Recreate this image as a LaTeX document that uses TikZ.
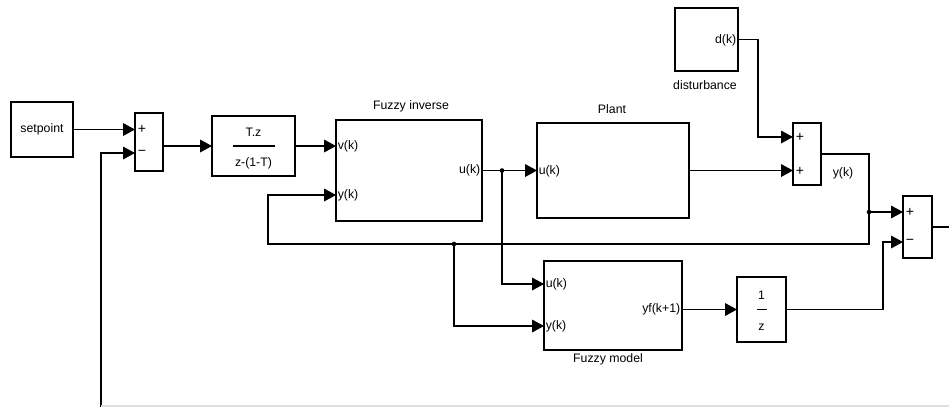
\documentclass[tikz,border=0pt]{standalone}
\usepackage{fontspec}
\setmainfont{Liberation Sans}
\usetikzlibrary{positioning, calc, arrows.meta}

\begin{document}
\begin{tikzpicture}[
  x=0.02cm, y=-0.02cm,
  every node/.append style={inner sep=1pt, outer sep=0pt, font=\fontsize{7}{8}\selectfont},
  blk/.style={draw, line width=0.7pt, inner sep=0pt},
  lbl/.style={inner sep=1pt},
  sgn/.style={inner sep=1pt, anchor=west, font=\fontsize{8}{9}\selectfont},
  arr/.style={-{Triangle[length=6.8pt, width=7.2pt]}, line width=0.7pt},
  ln/.style={line width=0.7pt},
  dot/.style={fill=black},
]
\useasboundingbox (0,0) rectangle (949,407);

%% --- blocks (pixel coordinates, y down) ---------------------------------
\node[blk, minimum width=1.24cm, minimum height=1.10cm] (setpt) at (42, 129.5) {setpoint};
\node[blk, minimum width=0.56cm, minimum height=1.16cm] (sum1)  at (149, 142) {};
\node[blk, minimum width=1.66cm, minimum height=1.20cm] (tf)    at (253.5, 146) {};
\node[blk, minimum width=2.92cm, minimum height=2.02cm] (finv)  at (409, 170.5) {};
\node[blk, minimum width=3.04cm, minimum height=1.90cm] (plant) at (613, 170.5) {};
\node[blk, minimum width=1.26cm, minimum height=1.26cm] (dist)  at (706.5, 39.5) {};
\node[blk, minimum width=0.56cm, minimum height=1.24cm] (sum2)  at (807, 154) {};
\node[blk, minimum width=0.58cm, minimum height=1.24cm] (sum3)  at (917.5, 227) {};
\node[blk, minimum width=2.76cm, minimum height=1.78cm] (fmod)  at (613, 305.5) {};
\node[blk, minimum width=0.98cm, minimum height=1.30cm] (zinv)  at (761.5, 309.5) {};

%% --- block titles --------------------------------------------------------
\node[lbl] (finvt)  at (411, 106) {Fuzzy inverse};
\node[lbl] (plantt) at (612, 109) {Plant};
\node[lbl] (distt)  at (705, 85)  {disturbance};
\node[lbl] (fmodt)  at (608, 359) {Fuzzy model};
\node[lbl] (yk)     at (843, 173) {y(k)};

%% --- transfer functions --------------------------------------------------
\node[lbl] (tfnum) at (253.5, 132) {T.z};
\node[lbl] (tfden) at (253.5, 163) {z-(1-T)};
\draw[ln] ($(tf.center)+(-21,0)$) -- ($(tf.center)+(21,0)$);
\node[lbl] (znum) at (761.5, 295) {1};
\node[lbl] (zden) at (761.5, 327) {z};
\draw[ln] ($(zinv.center)+(-5,0)$) -- ($(zinv.center)+(5,0)$);

%% --- signs ---------------------------------------------------------------
\node[sgn] (s1a) at (136, 129) {+};
\node[sgn] (s1b) at (136, 153) {−};
\node[sgn] (s2a) at (794, 137) {+};
\node[sgn] (s2b) at (794, 171) {+};
\node[sgn] (s3a) at (904, 212) {+};
\node[sgn] (s3b) at (904, 242) {−};

%% --- ports ---------------------------------------------------------------
\node[lbl, anchor=west] (fivl) at (336, 146)   {v(k)};
\node[lbl, anchor=west] (fiyl) at (336, 195)   {y(k)};
\node[lbl, anchor=east] (fiul) at (482, 170.5) {u(k)};
\node[lbl, anchor=west] (plul) at (537, 171)   {u(k)};
\node[lbl, anchor=east] (dkl)  at (738, 40)    {d(k)};
\node[lbl, anchor=west] (fmul) at (544, 284)   {u(k)};
\node[lbl, anchor=west] (fmyl) at (544, 326)   {y(k)};
\node[lbl, anchor=east] (fmol) at (682, 309)   {yf(k+1)};

%% --- connection points ---------------------------------------------------
\coordinate (fiv) at ($(finv.west)+(0,-24.5)$);
\coordinate (fiy) at ($(finv.west)+(0,24.5)$);
\coordinate (fmu) at ($(fmod.west)+(0,-21.5)$);
\coordinate (fmy) at ($(fmod.west)+(0,20.5)$);
\coordinate (s1m) at ($(sum1.west)+(0,11)$);
\coordinate (s2u) at ($(sum2.west)+(0,-17)$);
\coordinate (s3p) at ($(sum3.west)+(0,-15)$);
\coordinate (s3m) at ($(sum3.west)+(0,15)$);
\coordinate (j1)  at (502, 170.5);
\coordinate (j2)  at (869, 212);
\coordinate (j3)  at (454, 244);
\coordinate (fbl) at (268, 244);
\coordinate (fbb) at (101, 407);
\coordinate (fbe) at (949, 406);
\coordinate (yout) at (949, 227);

%% --- connectors ----------------------------------------------------------
\draw[arr] (setpt.east) -- (setpt.east -| sum1.west);
\draw[arr] (fbb) |- (s1m);
\draw[arr] (sum1.east |- tf.west) -- (tf.west);
\draw[arr] (tf.east) -- (fiv);
\draw[arr] (finv.east) -- (finv.east -| plant.west);
\draw[arr] (j1) |- (fmu);
\draw[arr] (plant.east) -- (plant.east -| sum2.west);
\draw[arr] (dist.east) -- ++(20,0) |- (s2u);
\draw[arr] (sum2.east) -| (j3 -| j2) -- (fbl) |- (fiy);
\draw[arr] (j2) -- (s3p);
\draw[arr] (j3) |- (fmy);
\draw[arr] (fmod.east |- zinv.west) -- (zinv.west);
\draw[arr] (zinv.east) -- ++(97,0) |- (s3m);
\draw[ln] (sum3.east) -- (yout);
\draw[gray!25, line width=0.6pt] (fbb |- fbe) -- (fbe);

\fill[dot] (j1) circle[radius=1.3pt];
\fill[dot] (j2) circle[radius=1.3pt];
\fill[dot] (j3) circle[radius=1.3pt];
\end{tikzpicture}
\end{document}
